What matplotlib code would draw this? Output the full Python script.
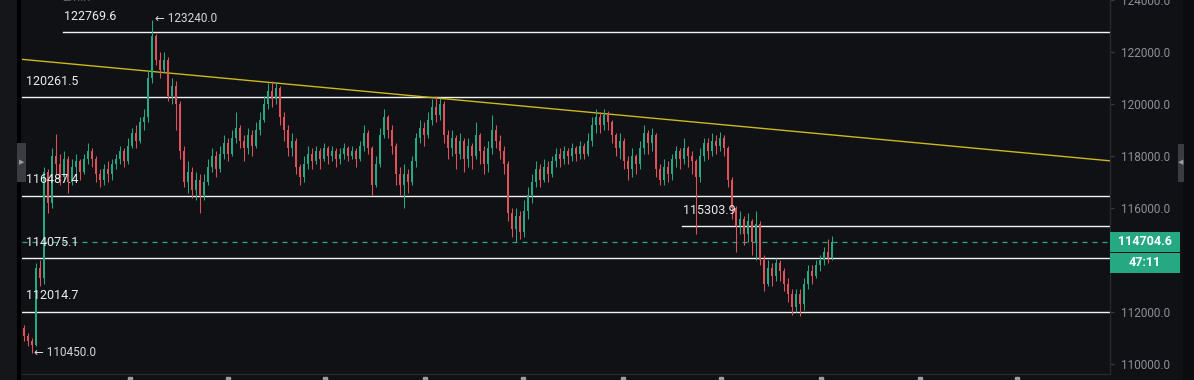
import matplotlib
matplotlib.use('Agg')
import matplotlib.pyplot as plt
import numpy as np
from matplotlib.patches import Rectangle
from matplotlib.transforms import IdentityTransform

# 2-min candles, open = previous close
first_open = 111400
closes = [111100, 110900, 110750, 113700, 113300, 117400, 116200, 118000, 117700, 117200,
          117900, 117000, 117600, 117800, 117400, 117900, 118200, 117900, 117300, 117100,
          117500, 117300, 117700, 117900, 118200, 117800, 118400, 118900, 118600, 119300,
          119500, 121000, 122600, 121700, 121300, 121700, 120300, 120700, 120000, 118200,
          117000, 117400, 116700, 117100, 116500, 117000, 117600, 118000, 117500, 118100,
          118500, 118100, 118700, 119100, 118600, 118300, 118800, 118400, 119000, 119400,
          120000, 120500, 120200, 120600, 119500, 119000, 118300, 118600, 117600, 117200,
          117700, 118100, 117800, 118200, 117900, 118300, 118000, 118200, 117900, 118100,
          118300, 118000, 118200, 117900, 118400, 118900, 118300, 116900, 117700, 118800,
          119500, 119000, 118400, 117300, 116900, 117300, 117000, 117800, 118700, 119100,
          118800, 119400, 119900, 119600, 120000, 118800, 118300, 118700, 118100, 118600,
          117900, 118400, 118000, 118800, 118200, 117700, 118300, 119000, 118600, 118200,
          117700, 115800, 115200, 115700, 115100, 115900, 116500, 117000, 117500, 117100,
          117600, 117300, 117800, 118100, 117900, 118200, 118000, 118300, 118100, 118400,
          118100, 118600, 119200, 119500, 119200, 119600, 119300, 118800, 118300, 118600,
          117800, 117500, 118000, 117700, 118300, 118900, 118500, 118800, 117500, 117100,
          117600, 117300, 117900, 118200, 117900, 118300, 118000, 117800, 117200, 118000,
          118500, 118200, 118600, 118400, 118700, 118300, 117100, 116000, 115300, 115600,
          115000, 115500, 114700, 115400, 114000, 113100, 113700, 113400, 113900, 113600,
          113100, 112700, 112200, 112700, 112300, 113100, 113600, 113400, 113800, 114000,
          114300, 114100, 114704.6]
highs = [111500, 111200, 111000, 113900, 114000, 117600, 117500, 118300, 118850, 118100,
         118200, 118000, 117900, 118100, 117900, 118100, 118500, 118300, 118000, 117500,
         117700, 117800, 117900, 118100, 118400, 118300, 118700, 119100, 119200, 119500,
         119800, 121300, 123240, 122700, 122000, 122000, 121800, 121000, 120900, 120100,
         118400, 117800, 117600, 117400, 117300, 117300, 117900, 118300, 118200, 118400,
         118800, 118700, 119000, 119700, 119200, 118800, 119100, 119000, 119300, 119700,
         120300, 120800, 120900, 120850, 120700, 119700, 119200, 118900, 118700, 117700,
         118000, 118400, 118300, 118400, 118300, 118500, 118400, 118400, 118300, 118300,
         118500, 118400, 118400, 118300, 118600, 119200, 119000, 118400, 118000, 119100,
         119800, 119600, 119200, 118500, 117600, 117700, 117500, 118000, 118900, 119400,
         119300, 119700, 120200, 120300, 120250, 120100, 119000, 119000, 118800, 118900,
         118700, 118700, 118500, 119300, 118900, 118400, 118600, 119600, 119200, 118800,
         118400, 117800, 116000, 116000, 115900, 116300, 116800, 117300, 117800, 117700,
         117900, 117800, 118000, 118300, 118300, 118400, 118300, 118500, 118400, 118600,
         118500, 118900, 119500, 119800, 119700, 119810, 119750, 119400, 118900, 118900,
         118700, 118000, 118300, 118100, 118600, 119200, 119000, 119100, 118900, 117700,
         117900, 117800, 118100, 118400, 118300, 118700, 118400, 118200, 117900, 118300,
         118700, 118700, 118900, 118800, 118930, 118800, 118400, 117200, 116100, 115900,
         115700, 115800, 115600, 115900, 115500, 114200, 114000, 113900, 114100, 114000,
         113700, 113300, 112900, 112900, 112900, 113300, 113800, 113800, 114000, 114200,
         114500, 114800, 114950]
lows = [110900, 110700, 110450, 110700, 113000, 113100, 115800, 116000, 117300, 116900,
        117000, 116600, 116900, 117300, 117100, 117300, 117700, 117600, 117000, 116800,
        116900, 117000, 117100, 117500, 117700, 117600, 117700, 118300, 118300, 118500,
        119000, 119300, 120800, 121500, 121000, 121200, 120100, 120000, 119000, 117900,
        116800, 116600, 116400, 116300, 115800, 116300, 116900, 117400, 117200, 117400,
        117900, 117800, 118000, 118500, 118300, 117800, 118100, 118000, 118300, 118800,
        119300, 119800, 119900, 120000, 119200, 118600, 118000, 118000, 117300, 116900,
        117000, 117500, 117500, 117700, 117500, 117800, 117700, 117800, 117600, 117700,
        117900, 117800, 117900, 117600, 117800, 118200, 118100, 116500, 116800, 117600,
        118700, 118700, 118100, 116900, 116500, 116000, 116600, 116900, 117600, 118500,
        118400, 118700, 119200, 119300, 119400, 118500, 117900, 118000, 117500, 117900,
        117400, 117600, 117500, 117900, 117700, 117300, 117400, 118100, 118300, 117900,
        117300, 115500, 114900, 114700, 114800, 114900, 115600, 116200, 116800, 116800,
        117000, 117000, 117200, 117600, 117600, 117700, 117700, 117800, 117800, 117900,
        117900, 118000, 118400, 118900, 118900, 119000, 119000, 118500, 118000, 117900,
        117500, 117100, 117200, 117300, 117500, 118100, 118100, 118200, 117200, 116900,
        116900, 117000, 117100, 117600, 117500, 117700, 117600, 117300, 115000, 117000,
        117800, 117900, 118000, 118100, 118200, 118000, 116800, 115600, 114300, 115000,
        114600, 114700, 114200, 114000, 113800, 112800, 113000, 113000, 113200, 113200,
        112800, 112400, 111900, 112000, 111850, 112100, 112900, 113100, 113300, 113600,
        113800, 113900, 114000]

# drawn levels and their starting bar
levels = [122769.6, 120261.5, 116487.4, 115303.9, 114075.1, 112014.7]
level_start = [9.75, -0.5, -0.5, 164.5, -0.5, -0.5]
trend_x = [-0.5, 271.5]
trend_y = [121720, 117820]
last_price = closes[-1]
countdown = '47:11'
price_ticks = [110000, 112000, 116000, 118000, 120000, 122000, 124000]
time_ticks = [26.5, 51, 75.25, 100.25, 124.75, 149.75, 174.25, 199.25, 224, 248.25]

BG = '#101114'
GREEN = '#26a883'
RED = '#e0525b'
FONT = ['Roboto', 'DejaVu Sans']
plt.rcParams['font.family'] = FONT

W, H = 1194, 380
fig = plt.figure(figsize=(W / 100, H / 100), dpi=100, facecolor=BG)
ax = fig.add_axes([22 / W, 6 / H, 1088 / W, 374 / H])
ax.set_facecolor(BG)
ax.set_xlim(-0.5, 271.5)
ax.set_ylim(109629, 123942)

c = np.array(closes, dtype=float)
o = np.r_[first_open, c[:-1]]
x = np.arange(len(c))
col = np.where(c >= o, GREEN, RED)
ax.vlines(x, lows, highs, colors=col, linewidth=0.75, zorder=3)
ax.bar(x, np.maximum(np.abs(c - o), 40), bottom=np.minimum(o, c), width=0.6,
       color=col, linewidth=0, zorder=3)

# horizontal levels with labels
for lv, st in zip(levels, level_start):
    ax.plot([st, 271.5], [lv, lv], color='#f2f2f2', lw=1.0, zorder=2)
    ax.annotate(f'{lv:.1f}', xy=(st + 1.0 if st < 0 else st + 0.3, lv),
                xytext=(0, 16), textcoords='offset pixels', color='#ececec',
                fontsize=9, va='center', ha='left', zorder=4)

ax.plot(trend_x, trend_y, color='#cdb81e', lw=1.0, zorder=2)
ax.axhline(last_price, color=GREEN, lw=0.9, ls=(0, (4, 4)), zorder=2)

# extremes
imax = int(np.argmax(highs))
imin = int(np.argmin(lows))
ax.annotate(f'\u2190 {highs[imax]:.1f}', xy=(imax, highs[imax]), xytext=(3, 1),
            textcoords='offset pixels', color='#d8d8d8', fontsize=8.5, va='center')
ax.annotate(f'\u2190 {lows[imin]:.1f}', xy=(imin, lows[imin]), xytext=(2, 0),
            textcoords='offset pixels', color='#d8d8d8', fontsize=8.5, va='center')

# price axis
ax.yaxis.tick_right()
ax.set_yticks(price_ticks)
ax.set_yticklabels([f'{v:.1f}' for v in price_ticks])
ax.tick_params(axis='y', colors='#3a3b40', labelcolor='#8c8f97', labelsize=8.5,
               length=3, width=0.8, pad=5)
ax.set_xticks([])
for s in ['left', 'top']:
    ax.spines[s].set_visible(False)
for s in ['right', 'bottom']:
    ax.spines[s].set_color('#2a2b30')
    ax.spines[s].set_linewidth(0.9)

# time axis tick stubs (labels cut off)
ax.plot(time_ticks, [-0.014] * len(time_ticks), ls='none', marker='s', ms=3.2,
        color='#9a9da3', transform=ax.get_xaxis_transform(), clip_on=False)

# last price boxes
fig.canvas.draw()
yd = ax.transData.transform((0, last_price))[1]
ident = IdentityTransform()
fig.add_artist(Rectangle((1110, yd - 10), 70, 20, transform=ident, color=GREEN, lw=0))
fig.add_artist(Rectangle((1110, yd - 31), 70, 20, transform=ident, color=GREEN, lw=0))
fig.text(1145 / W, yd / H, f'{last_price:.1f}', color='white', fontsize=9,
         fontweight='bold', ha='center', va='center')
fig.text(1145 / W, (yd - 21) / H, countdown, color='white', fontsize=9,
         fontweight='bold', ha='center', va='center')

# side panels and handles
fig.add_artist(Rectangle((0, 0), 17 / W, 1, transform=fig.transFigure, color='#151619', lw=0))
fig.add_artist(Rectangle((17 / W, 0), 4 / W, 1, transform=fig.transFigure, color='#000000', lw=0))
fig.add_artist(Rectangle((1183 / W, 0), 11 / W, 1, transform=fig.transFigure, color='#0b0c0e', lw=0))
fig.add_artist(Rectangle((17 / W, (380 - 182) / H), 9 / W, 39 / H, transform=fig.transFigure,
                         color='#3b3c41', lw=0))
fig.add_artist(Rectangle((1178 / W, (380 - 182) / H), 6 / W, 38 / H, transform=fig.transFigure,
                         color='#3b3c41', lw=0))
fig.text(21.5 / W, (380 - 162) / H, '\u25b6', color='#9a9a9a', fontsize=5,
         ha='center', va='center', family=['DejaVu Sans'])
fig.text(1181 / W, (380 - 162) / H, '\u25c0', color='#9a9a9a', fontsize=5,
         ha='center', va='center', family=['DejaVu Sans'])
fig.text(62 / W, 1.0 + 3 / H, '2min', color='#5f626a', fontsize=9, ha='left', va='center')

fig.savefig('out.png', dpi=100, facecolor=BG)
